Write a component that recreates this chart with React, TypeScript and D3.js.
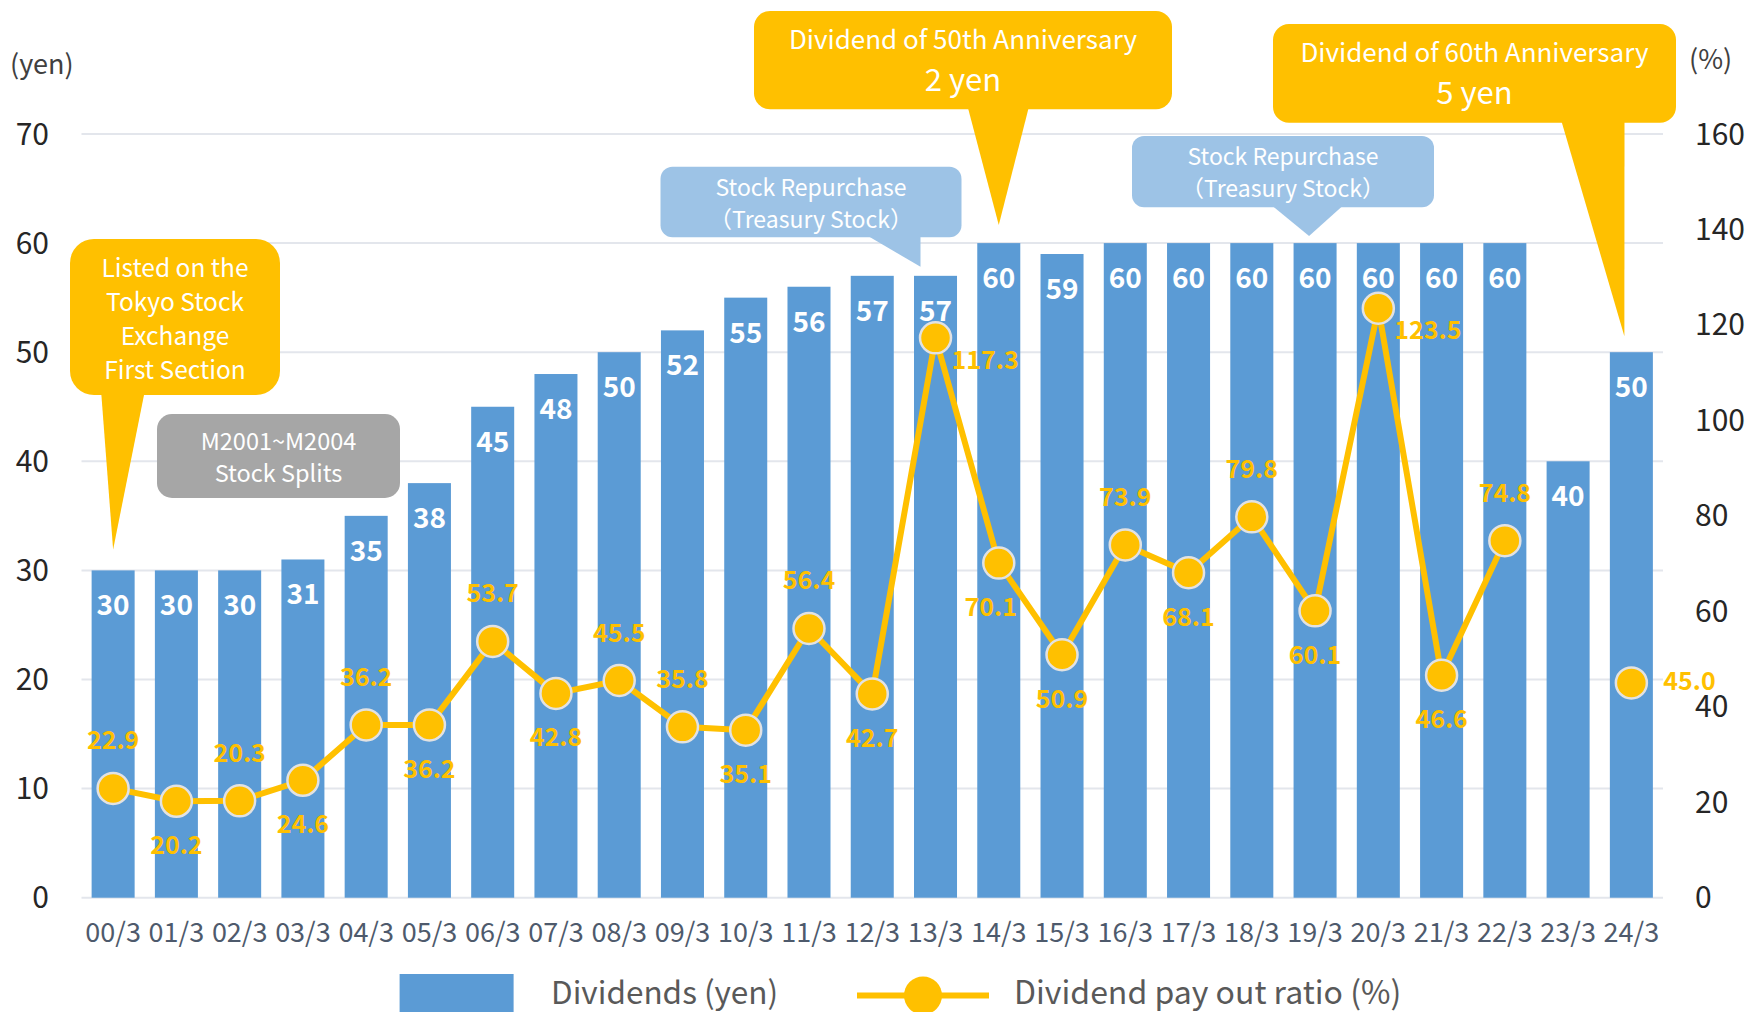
import React from "react";
import * as d3 from "d3";

const categories = ["00/3","01/3","02/3","03/3","04/3","05/3","06/3","07/3","08/3","09/3","10/3","11/3","12/3","13/3","14/3","15/3","16/3","17/3","18/3","19/3","20/3","21/3","22/3","23/3","24/3"];
const dividends = [30,30,30,31,35,38,45,48,50,52,55,56,57,57,60,59,60,60,60,60,60,60,60,40,50];
const payout: (number | null)[] = [22.9,20.2,20.3,24.6,36.2,36.2,53.7,42.8,45.5,35.8,35.1,56.4,42.7,117.3,70.1,50.9,73.9,68.1,79.8,60.1,123.5,46.6,74.8,null,45.0];
const payoutLabelPos = ["above","below","above","below","above","below","above","below","above","above","below","above","below","right","below","below","above","below","above","below","right","below","above","none","right"];
const leftTicks = [0,10,20,30,40,50,60,70];
const rightTicks = [0,20,40,60,80,100,120,140,160];

const W = 1750, H = 1012;
const L = 81.5, R = 1663, T = 134, B = 897.7;
const BLUE = "#5B9BD5";
const ORANGE = "#FFC000";
const FONT = "'Noto Sans CJK JP', 'Noto Sans', sans-serif";

export default function App() {
  const x = d3.scaleBand<string>().domain(categories).range([L, R]).paddingInner(0.32).paddingOuter(0.16);
  const y = d3.scaleLinear().domain([0, 70]).range([B, T]);
  const y2 = d3.scaleLinear().domain([0, 160]).range([B, T]);
  const cx = (i: number) => (x(categories[i]) as number) + x.bandwidth() / 2;

  const pts = payout.map((v, i) => ({ v, i }));
  const line = d3.line<{ v: number | null; i: number }>()
    .defined(d => d.v !== null && d.i !== 24)
    .x(d => cx(d.i))
    .y(d => y2(d.v as number));

  const textWhite = { fill: "#fff", fontFamily: FONT } as const;

  const tipListed = [cx(0), y(30) - 21];
  const tipRep1 = [cx(13) - 15, y(57) - 9];
  const tip50 = [cx(14), y(60) - 18];
  const tipRep2 = [cx(19) - 6, y(60) - 7];
  const tip60 = [cx(24) - 7, y(50) - 16];

  return (
    <svg width={W} height={H} style={{ position: "absolute", left: 0, top: 0, background: "#fff" }}>
      {leftTicks.map(t => (
        <line key={t} x1={L} x2={R} y1={y(t)} y2={y(t)} stroke="#E3E6EC" strokeWidth={2} />
      ))}
      {leftTicks.map(t => (
        <text key={"l" + t} x={49} y={y(t) + 10.5} textAnchor="end" fontSize={30} fill="#262626" fontFamily={FONT}>{t}</text>
      ))}
      {rightTicks.map(t => (
        <text key={"r" + t} x={1695} y={y2(t) + 10.5} textAnchor="start" fontSize={30} fill="#262626" fontFamily={FONT}>{t}</text>
      ))}
      <text x={10} y={74} fontSize={27} fill="#404040" fontFamily={FONT}>(yen)</text>
      <text x={1689} y={69} fontSize={27} fill="#404040" fontFamily={FONT}>(%)</text>

      {dividends.map((d, i) => (
        <rect key={"b" + i} x={x(categories[i])} y={y(d)} width={x.bandwidth()} height={B - y(d)} fill={BLUE} />
      ))}
      {dividends.map((d, i) => (
        <text key={"bl" + i} x={cx(i)} y={y(d) + 45} textAnchor="middle" fontSize={28} fontWeight="bold" {...textWhite}>{d}</text>
      ))}

      {categories.map((c, i) => (
        <text key={"c" + i} x={cx(i)} y={942} textAnchor="middle" fontSize={27} fill="#4E5A6C" fontFamily={FONT}>{c}</text>
      ))}

      <path d={line(pts) || ""} fill="none" stroke={ORANGE} strokeWidth={6} strokeLinejoin="round" />
      {pts.filter(p => p.v !== null).map(p => (
        <circle key={"p" + p.i} cx={cx(p.i)} cy={y2(p.v as number)} r={15.5} fill={ORANGE} stroke="#E2E2E2" strokeWidth={2.5} />
      ))}
      {pts.filter(p => p.v !== null).map(p => {
        const pos = payoutLabelPos[p.i];
        const py = y2(p.v as number);
        let lx = cx(p.i), ly = py, anchor: "middle" | "start" = "middle";
        if (pos === "above") ly = py - 48;
        else if (pos === "below") ly = py + 44;
        else if (pos === "right") { lx = cx(p.i) + 16; ly = py + 22; anchor = "start"; }
        if (p.i === 24) { ly = py - 2; lx = cx(p.i) + 32; }
        if (p.i === 14) lx = cx(p.i) - 8;
        return (
          <text key={"pl" + p.i} x={lx} y={ly + 9} textAnchor={anchor} fontSize={25} fontWeight="bold" fill={ORANGE} fontFamily={FONT}>
            {(p.v as number).toFixed(1)}
          </text>
        );
      })}

      <g>
        <rect x={70} y={239} width={210} height={156} rx={24} fill={ORANGE} />
        <polygon points={`101,390 145,390 ${tipListed[0]},${tipListed[1]}`} fill={ORANGE} />
        {["Listed on the", "Tokyo Stock", "Exchange", "First Section"].map((s, k) => (
          <text key={k} x={175} y={276.5 + k * 34} textAnchor="middle" fontSize={24.5} {...textWhite}>{s}</text>
        ))}
      </g>
      <g>
        <rect x={157} y={414} width={243} height={84} rx={15} fill="#A6A6A6" />
        <text x={278.5} y={449.5} textAnchor="middle" fontSize={23.5} {...textWhite}>M2001~M2004</text>
        <text x={278.5} y={481.5} textAnchor="middle" fontSize={23.5} {...textWhite}>Stock Splits</text>
      </g>
      <g>
        <rect x={660.5} y={166.7} width={301} height={70.6} rx={12} fill="#9DC3E6" />
        <polygon points={`868,236 ${tipRep1[0]},236 ${tipRep1[0]},${tipRep1[1]}`} fill="#9DC3E6" />
        <text x={811} y={195.5} textAnchor="middle" fontSize={23} {...textWhite}>Stock Repurchase</text>
        <text x={811} y={227.5} textAnchor="middle" fontSize={23} {...textWhite}>（Treasury Stock）</text>
      </g>
      <g>
        <rect x={1132} y={136} width={302} height={71.3} rx={12} fill="#9DC3E6" />
        <polygon points={`1272.5,206 1342.5,206 ${tipRep2[0]},${tipRep2[1]}`} fill="#9DC3E6" />
        <text x={1283} y={165} textAnchor="middle" fontSize={23} {...textWhite}>Stock Repurchase</text>
        <text x={1283} y={196.5} textAnchor="middle" fontSize={23} {...textWhite}>（Treasury Stock）</text>
      </g>
      <g>
        <rect x={754} y={11} width={418} height={98.3} rx={16} fill={ORANGE} />
        <polygon points={`968,108 1028.6,108 ${tip50[0]},${tip50[1]}`} fill={ORANGE} />
        <text x={963} y={48.5} textAnchor="middle" fontSize={26} {...textWhite}>Dividend of 50th Anniversary</text>
        <text x={963} y={91} textAnchor="middle" fontSize={31} {...textWhite}>2 yen</text>
      </g>
      <g>
        <rect x={1273} y={24} width={403} height={98.7} rx={16} fill={ORANGE} />
        <polygon points={`1561.4,121 1624.5,121 ${tip60[0]},${tip60[1]}`} fill={ORANGE} />
        <text x={1474.5} y={61.5} textAnchor="middle" fontSize={26} {...textWhite}>Dividend of 60th Anniversary</text>
        <text x={1474.5} y={104} textAnchor="middle" fontSize={31} {...textWhite}>5 yen</text>
      </g>

      <rect x={399.6} y={974} width={114} height={40} fill={BLUE} />
      <text x={551} y={1004} fontSize={31.5} fill="#595959" fontFamily={FONT}>Dividends (yen)</text>
      <line x1={857} x2={989} y1={995.5} y2={995.5} stroke={ORANGE} strokeWidth={6} />
      <circle cx={923} cy={995.5} r={19} fill={ORANGE} />
      <text x={1014} y={1004} fontSize={32} fill="#595959" fontFamily={FONT}>Dividend pay out ratio (%)</text>
    </svg>
  );
}
